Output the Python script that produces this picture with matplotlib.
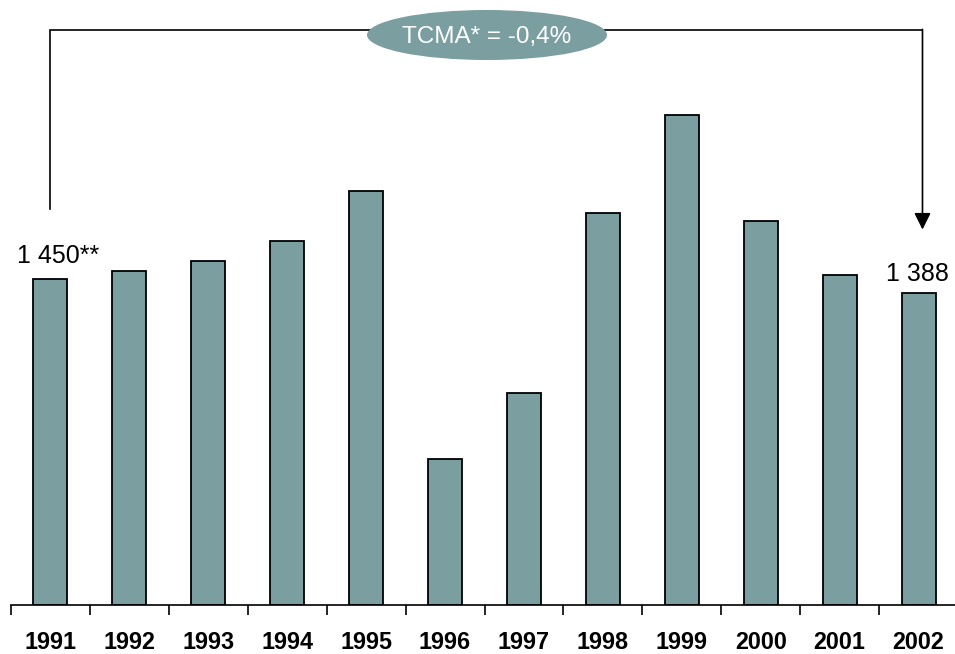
import matplotlib
matplotlib.use("Agg")
import matplotlib.pyplot as plt
from matplotlib.patches import Ellipse

plt.rcParams['font.family'] = ['Liberation Sans', 'DejaVu Sans']

years = ["1991", "1992", "1993", "1994", "1995", "1996",
         "1997", "1998", "1999", "2000", "2001", "2002"]
values = [1450, 1487, 1532, 1621, 1843, 650, 944, 1745, 2182, 1710, 1469, 1388]
first_label = "1 450**"
last_label = "1 388"
growth_label = "TCMA* = -0,4%"

W, H = 955, 654
fig = plt.figure(figsize=(W / 100, H / 100), dpi=100)
bar_color = "#7b9fa0"

# axes: baseline at y=605 px, spans x 11..958 px, top at figure top
ax = fig.add_axes([11 / W, 49 / H, 947 / W, 605 / H])
x = list(range(len(years)))
ax.bar(x, values, width=0.43, color=bar_color, edgecolor="black", linewidth=1.3, zorder=2)
ax.set_xlim(-0.5, len(years) - 0.5)
ax.set_ylim(0, 2694)

for s in ("left", "top", "right"):
    ax.spines[s].set_visible(False)
ax.spines["bottom"].set_linewidth(1.2)
ax.set_yticks([])
ax.set_xticks(x)
ax.set_xticklabels(years, fontsize=16.8, fontweight="bold")
ax.tick_params(axis="x", which="major", length=0, pad=18.5)
ax.set_xticks([i - 0.5 for i in range(len(years) + 1)], minor=True)
ax.tick_params(axis="x", which="minor", length=7, width=1.2, direction="out")

# value labels
ax.text(x[0] - 0.42, values[0] + 75, first_label, fontsize=18, ha="left", va="baseline")
ax.text(x[-1] - 0.02, values[-1] + 55, last_label, fontsize=18, ha="center", va="baseline")

# bracket connecting first and last year
top_y = 2560
ax.plot([x[0], x[0], x[-1] + 0.05], [1763, top_y, top_y], color="black", lw=1.2,
        clip_on=False, solid_joinstyle="miter", zorder=3)
ax.annotate("", xy=(x[-1] + 0.05, 1672), xytext=(x[-1] + 0.05, top_y + 3),
            arrowprops=dict(arrowstyle="-|>,head_length=1.0,head_width=0.5",
                            color="black", lw=1.2, shrinkA=0, shrinkB=0),
            annotation_clip=False, zorder=3)

# growth rate ellipse
ell = Ellipse((487 / W, 1 - 35 / H), 240 / W, 50 / H, transform=fig.transFigure,
              facecolor=bar_color, edgecolor="none", zorder=5)
fig.patches.append(ell)
fig.text(487 / W, 1 - 37 / H, growth_label, color="white", fontsize=17.5,
         ha="center", va="center", zorder=6)

fig.savefig("out.png", dpi=100)
